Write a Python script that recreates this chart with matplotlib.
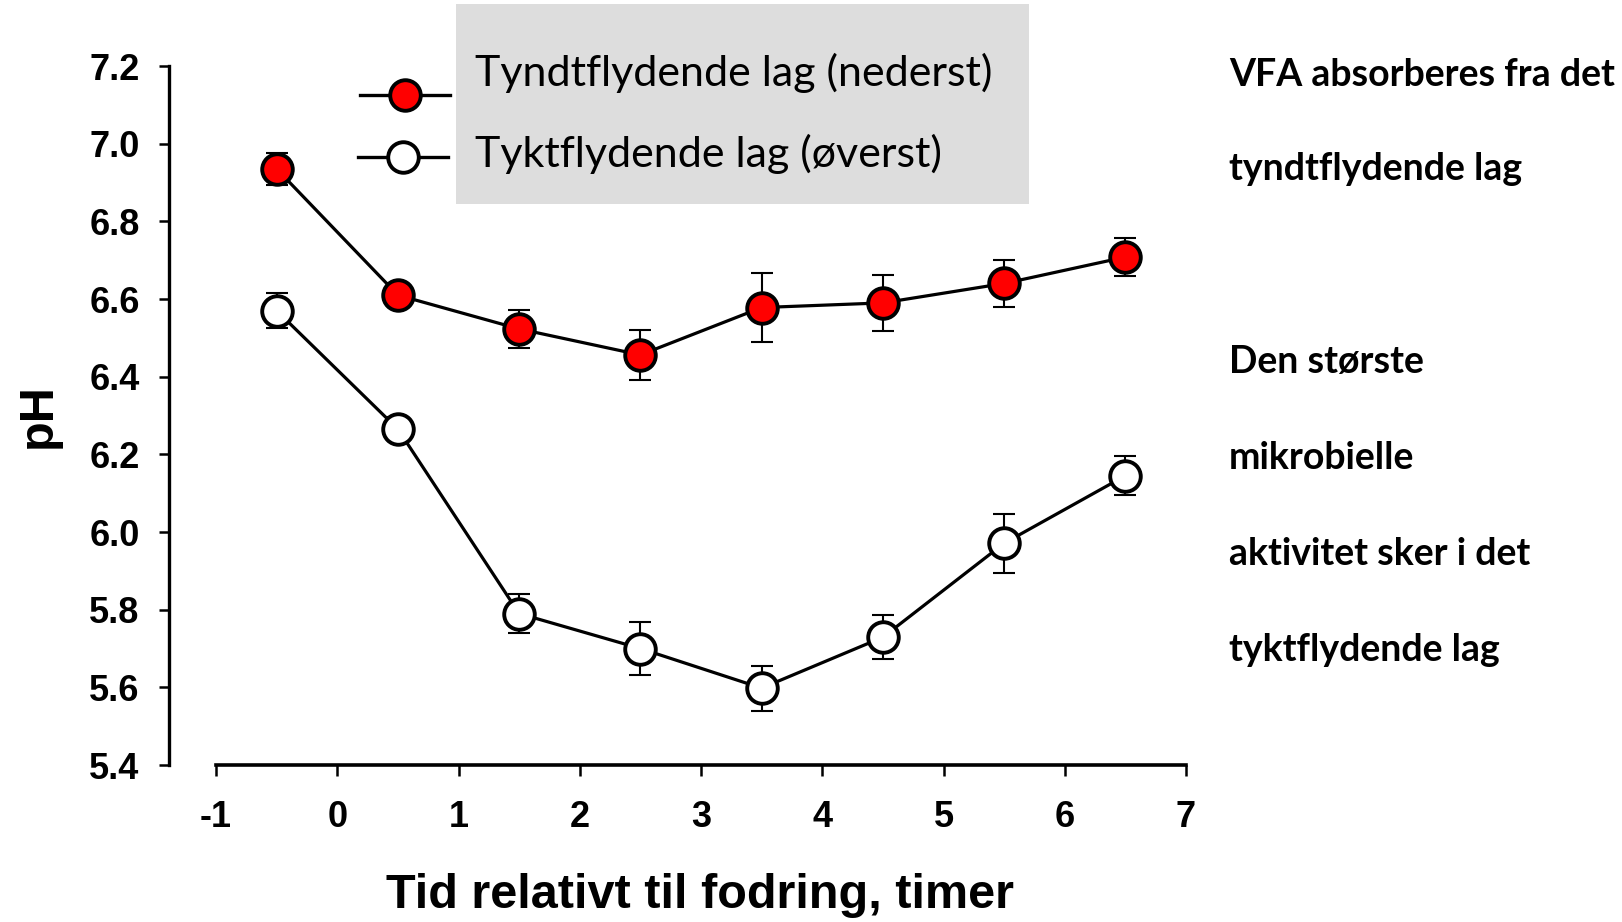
import matplotlib
matplotlib.use("Agg")
import matplotlib.pyplot as plt
from matplotlib.lines import Line2D
from matplotlib.patches import Rectangle

# Sampling times (hours relative to feeding) and rumen pH per layer
hours = [-0.5, 0.5, 1.5, 2.5, 3.5, 4.5, 5.5, 6.5]
ph_thin = [6.935, 6.61, 6.523, 6.456, 6.578, 6.59, 6.64, 6.708]
err_thin = [0.042, 0.03, 0.048, 0.064, 0.089, 0.073, 0.06, 0.05]
ph_thick = [6.57, 6.265, 5.79, 5.70, 5.598, 5.729, 5.971, 6.145]
err_thick = [0.045, 0.03, 0.051, 0.068, 0.058, 0.057, 0.076, 0.05]

x_ticks = [-1, 0, 1, 2, 3, 4, 5, 6, 7]
y_ticks = [5.4, 5.6, 5.8, 6.0, 6.2, 6.4, 6.6, 6.8, 7.0, 7.2]

series_labels = ["Tyndtflydende lag (nederst)", "Tyktflydende lag (øverst)"]
note_lines = ["VFA absorberes fra det", "tyndtflydende lag",
              "Den største", "mikrobielle", "aktivitet sker i det",
              "tyktflydende lag"]

W, H = 1622, 922
BOLD = "Liberation Sans"


def fx(px):
    return px / W


def fy(py):
    return 1 - py / H


fig = plt.figure(figsize=(W / 100, H / 100), dpi=100)
ax = fig.add_axes([fx(216), fy(765), 970 / W, 699 / H])
ax.patch.set_visible(False)

# error bars first so the markers sit on top of them
ax.errorbar(hours, ph_thin, yerr=err_thin, fmt="none", ecolor="black",
            elinewidth=1.5, capsize=7.8, capthick=1.5, zorder=2, clip_on=False)
ax.errorbar(hours, ph_thick, yerr=err_thick, fmt="none", ecolor="black",
            elinewidth=1.5, capsize=7.8, capthick=1.5, zorder=2, clip_on=False)

style = dict(color="black", lw=2.3, marker="o", ms=22, mec="black", mew=2.8,
             zorder=3, clip_on=False)
ax.plot(hours, ph_thin, mfc="#ff0000", **style)
ax.plot(hours, ph_thick, mfc="white", **style)

ax.set_xlim(-1, 7)
ax.set_ylim(5.4, 7.2)

for side in ("top", "right"):
    ax.spines[side].set_visible(False)
ax.spines["left"].set_position(("outward", 47 * 0.72))
ax.spines["left"].set_linewidth(2.4)
ax.spines["bottom"].set_linewidth(2.6)

ax.set_xticks(x_ticks, labels=[str(v) for v in x_ticks],
              fontsize=26, fontweight="bold", family=BOLD)
ax.set_yticks(y_ticks, labels=[f"{v:.1f}" for v in y_ticks],
              fontsize=26, fontweight="bold", family=BOLD)
ax.tick_params(axis="y", direction="out", length=7.2, width=1.8, pad=14)
ax.tick_params(axis="x", direction="out", length=8, width=1.8, pad=17)

ax.set_xlabel("Tid relativt til fodring, timer", fontsize=35,
              fontweight="bold", family=BOLD, va="baseline")
ax.xaxis.set_label_coords((700 - 216) / 970, (765 - 908) / 699)
ax.set_ylabel("pH", fontsize=35, fontweight="bold", family=BOLD, va="center")
ax.yaxis.set_label_coords((38 - 216) / 970, (765 - 416) / 699)

# legend: grey panel with the keys drawn just left of it
fig.add_artist(Rectangle((fx(456), fy(204)), 573 / W, 200 / H,
                         transform=fig.transFigure, facecolor="#dddddd",
                         edgecolor="none", zorder=1))
key_rows = [(360, 450, 95, "#ff0000", 86), (358, 448, 157, "white", 167)]
for (x0, x1, yk, face, base), label in zip(key_rows, series_labels):
    fig.add_artist(Line2D([fx(x0), fx((x0 + x1) / 2), fx(x1)],
                          [fy(yk)] * 3, transform=fig.transFigure,
                          color="black", lw=2.4, marker="o", markevery=[1],
                          ms=22, mfc=face, mec="black", mew=2.8, zorder=2))
    fig.text(fx(475), fy(base), label, fontsize=31, family="Lato",
             fontweight="normal", color="black", va="baseline", ha="left",
             zorder=3)

# explanatory notes at the right
for line, base in zip(note_lines, [86, 180, 373, 469, 565, 661]):
    fig.text(fx(1229), fy(base), line, fontsize=27, family="Lato",
             fontweight="bold", va="baseline", ha="left")

fig.savefig("out.png", dpi=100, facecolor="white")
